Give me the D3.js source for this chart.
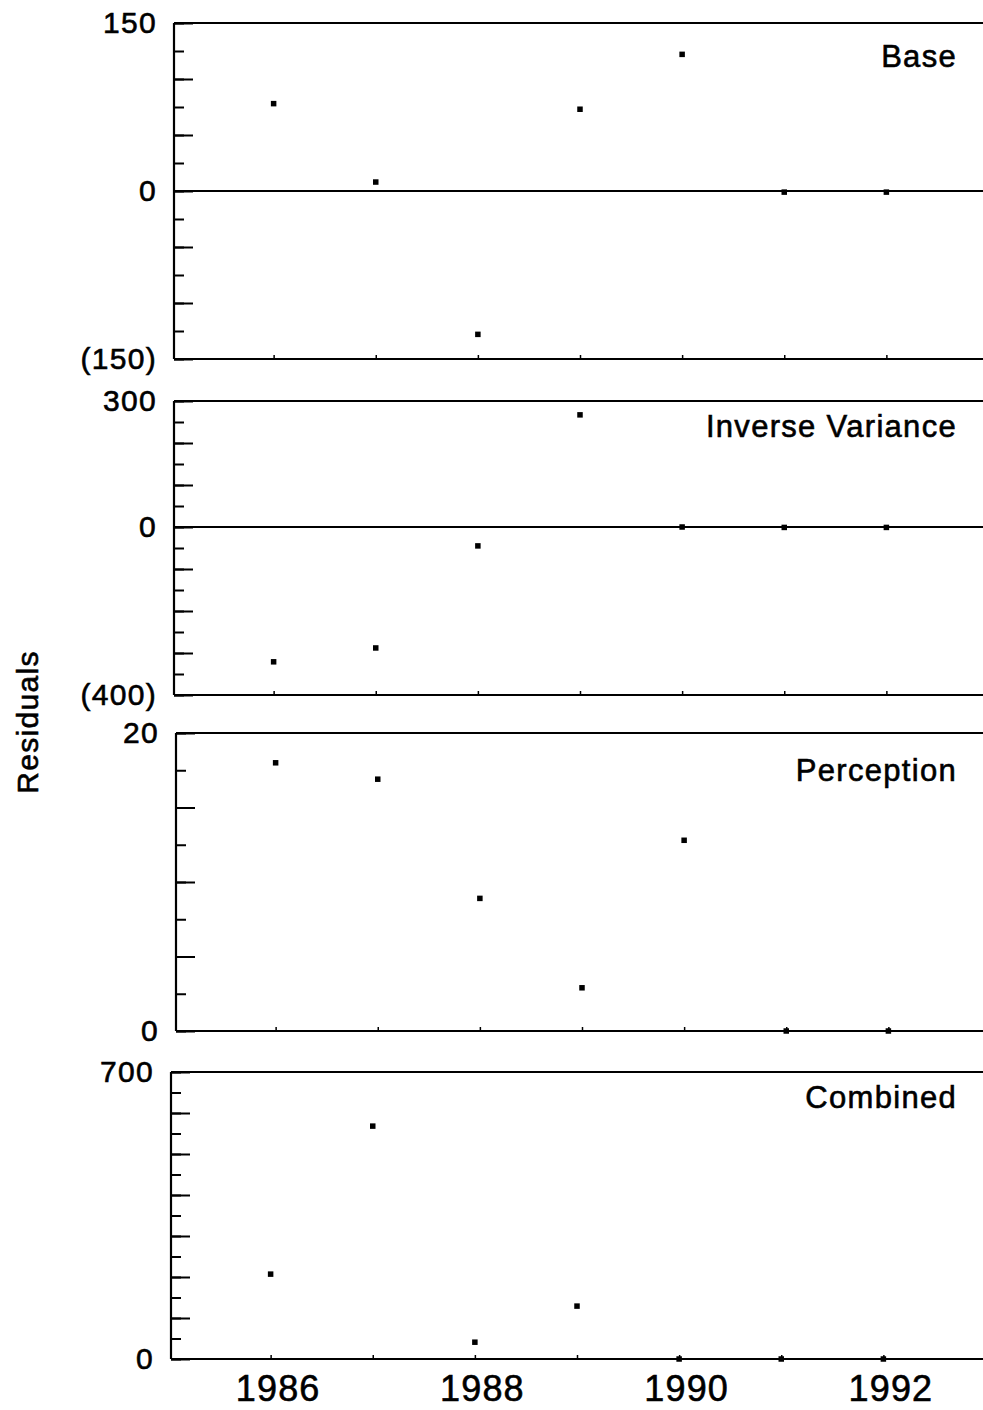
<!DOCTYPE html>
<html>
<head>
<meta charset="utf-8">
<script src="https://cdn.jsdelivr.net/npm/d3@7"></script>
<style>
  body { margin: 0; background: #fff; }
  text { font-family: "Liberation Sans", Arial, Helvetica, sans-serif; fill: #000; stroke: #000; stroke-width: 0.6px; }
</style>
</head>
<body>
<svg id="chart"></svg>
<script>
  // data
  var years = [1986, 1987, 1988, 1989, 1990, 1991, 1992]
  var base = [78, 8, -128, 73, 122, -1, -1]
  var inverseVariance = [-321, -288, -45, 267, 0, -1, -1]
  var perception = [18.0, 16.9, 8.9, 2.9, 12.8, 0, 0]
  var combined = [207, 568, 41, 129, 0, 0, 0]

  var panelNames = ["Base", "Inverse Variance", "Perception", "Combined"]
  var panelDomains = [[-150, 150], [-400, 300], [0, 20], [0, 700]]
  var minorSteps = [25, 50, 2.5, 50]
  var majorSteps = [50, 100, 5, 100]
  var labelTicks = [[150, 0, -150], [300, 0, -400], [20, 0], [700, 0]]
  var xLabelYears = [1986, 1988, 1990, 1992]

  var width = 983;
  var height = 1410;

  // panel frames (top, bottom, left) in pixels
  var panels = [
    {top: 23, bottom: 359, left: 174},
    {top: 401, bottom: 695, left: 174},
    {top: 733, bottom: 1031, left: 176},
    {top: 1072, bottom: 1359, left: 171}
  ]
  var series = [base, inverseVariance, perception, combined]

  var svg = d3.select("#chart").attr("width", width).attr("height", height)

  var fmt = v => v < 0 ? "(" + Math.abs(v) + ")" : String(v)

  panels.forEach((p, i) => {
    var xScale = d3.scaleLinear().domain([1985, 1993]).range([-2.5, 814.5])
    var yScale = d3.scaleLinear().domain(panelDomains[i]).range([p.bottom - p.top, 0])
    var dom = panelDomains[i]

    var g = svg.append("g").attr("transform", `translate(${p.left},${p.top})`)

    // minor y ticks
    g.append("g")
      .call(d3.axisLeft(yScale)
        .tickValues(d3.range(dom[0], dom[1] + minorSteps[i] / 2, minorSteps[i]))
        .tickSize(-10).tickFormat(""))
      .call(a => a.select(".domain").remove())

    // major y ticks
    g.append("g")
      .call(d3.axisLeft(yScale)
        .tickValues(d3.range(dom[0], dom[1] + majorSteps[i] / 2, majorSteps[i]))
        .tickSize(-19).tickFormat(""))
      .call(a => a.select(".domain").remove())

    // y labels + left line
    var yLab = g.append("g")
      .call(d3.axisLeft(yScale).tickValues(labelTicks[i]).tickSize(0).tickPadding(17).tickFormat(fmt))
    yLab.select(".domain").attr("stroke-width", 2.2).attr("d", `M0,${yScale(dom[1])}V${yScale(dom[0])}`)
    yLab.selectAll("text").attr("font-size", 30).attr("letter-spacing", 1.3)

    g.selectAll(".tick line").attr("stroke-width", 2)

    // bottom axis with small inner year ticks
    var xAxis = d3.axisBottom(xScale).tickValues(years).tickSize(-4).tickFormat("")
    var xg = g.append("g").attr("transform", `translate(0,${yScale(dom[0])})`).call(xAxis)
    xg.select(".domain").attr("stroke-width", 2.2).attr("d", `M0,0H${xScale(1993)}`)
    xg.selectAll(".tick line").attr("stroke-width", 1.5)

    if (i === panels.length - 1) {
      g.append("g").attr("transform", `translate(0,${yScale(dom[0])})`)
        .call(d3.axisBottom(xScale).tickValues(xLabelYears).tickSize(0).tickPadding(16).tickFormat(d3.format("d")))
        .call(a => a.select(".domain").remove())
        .selectAll("text").attr("font-size", 36).attr("letter-spacing", 1.2).attr("dx", 7)
    }

    // top border
    g.append("line")
      .attr("x1", 0).attr("x2", xScale(1993))
      .attr("y1", yScale(dom[1])).attr("y2", yScale(dom[1]))
      .attr("stroke", "#000").attr("stroke-width", 2.2)

    // zero line
    if (dom[0] < 0) {
      g.append("line")
        .attr("x1", 0).attr("x2", xScale(1993))
        .attr("y1", yScale(0)).attr("y2", yScale(0))
        .attr("stroke", "#000").attr("stroke-width", 2.2)
    }

    // points
    g.selectAll(".pt")
      .data(series[i])
      .enter().append("rect")
      .attr("class", "pt")
      .attr("x", (d, j) => xScale(years[j]) - 2.75)
      .attr("y", d => yScale(d) - 2.75)
      .attr("width", 5.5).attr("height", 5.5)
      .attr("fill", "#000")
  })

  // panel titles
  var titleBaselines = [67, 437, 781, 1108]
  svg.selectAll(".title")
    .data(panelNames)
    .enter().append("text")
    .attr("class", "title")
    .attr("x", 957)
    .attr("y", (d, i) => titleBaselines[i])
    .attr("text-anchor", "end")
    .attr("font-size", 31)
    .attr("letter-spacing", 1.3)
    .text(d => d)

  svg.append("text")
    .attr("transform", "translate(38,722) rotate(-90)")
    .attr("text-anchor", "middle")
    .attr("font-size", 30)
    .attr("letter-spacing", 1.3)
    .text("Residuals")
</script>
</body>
</html>
